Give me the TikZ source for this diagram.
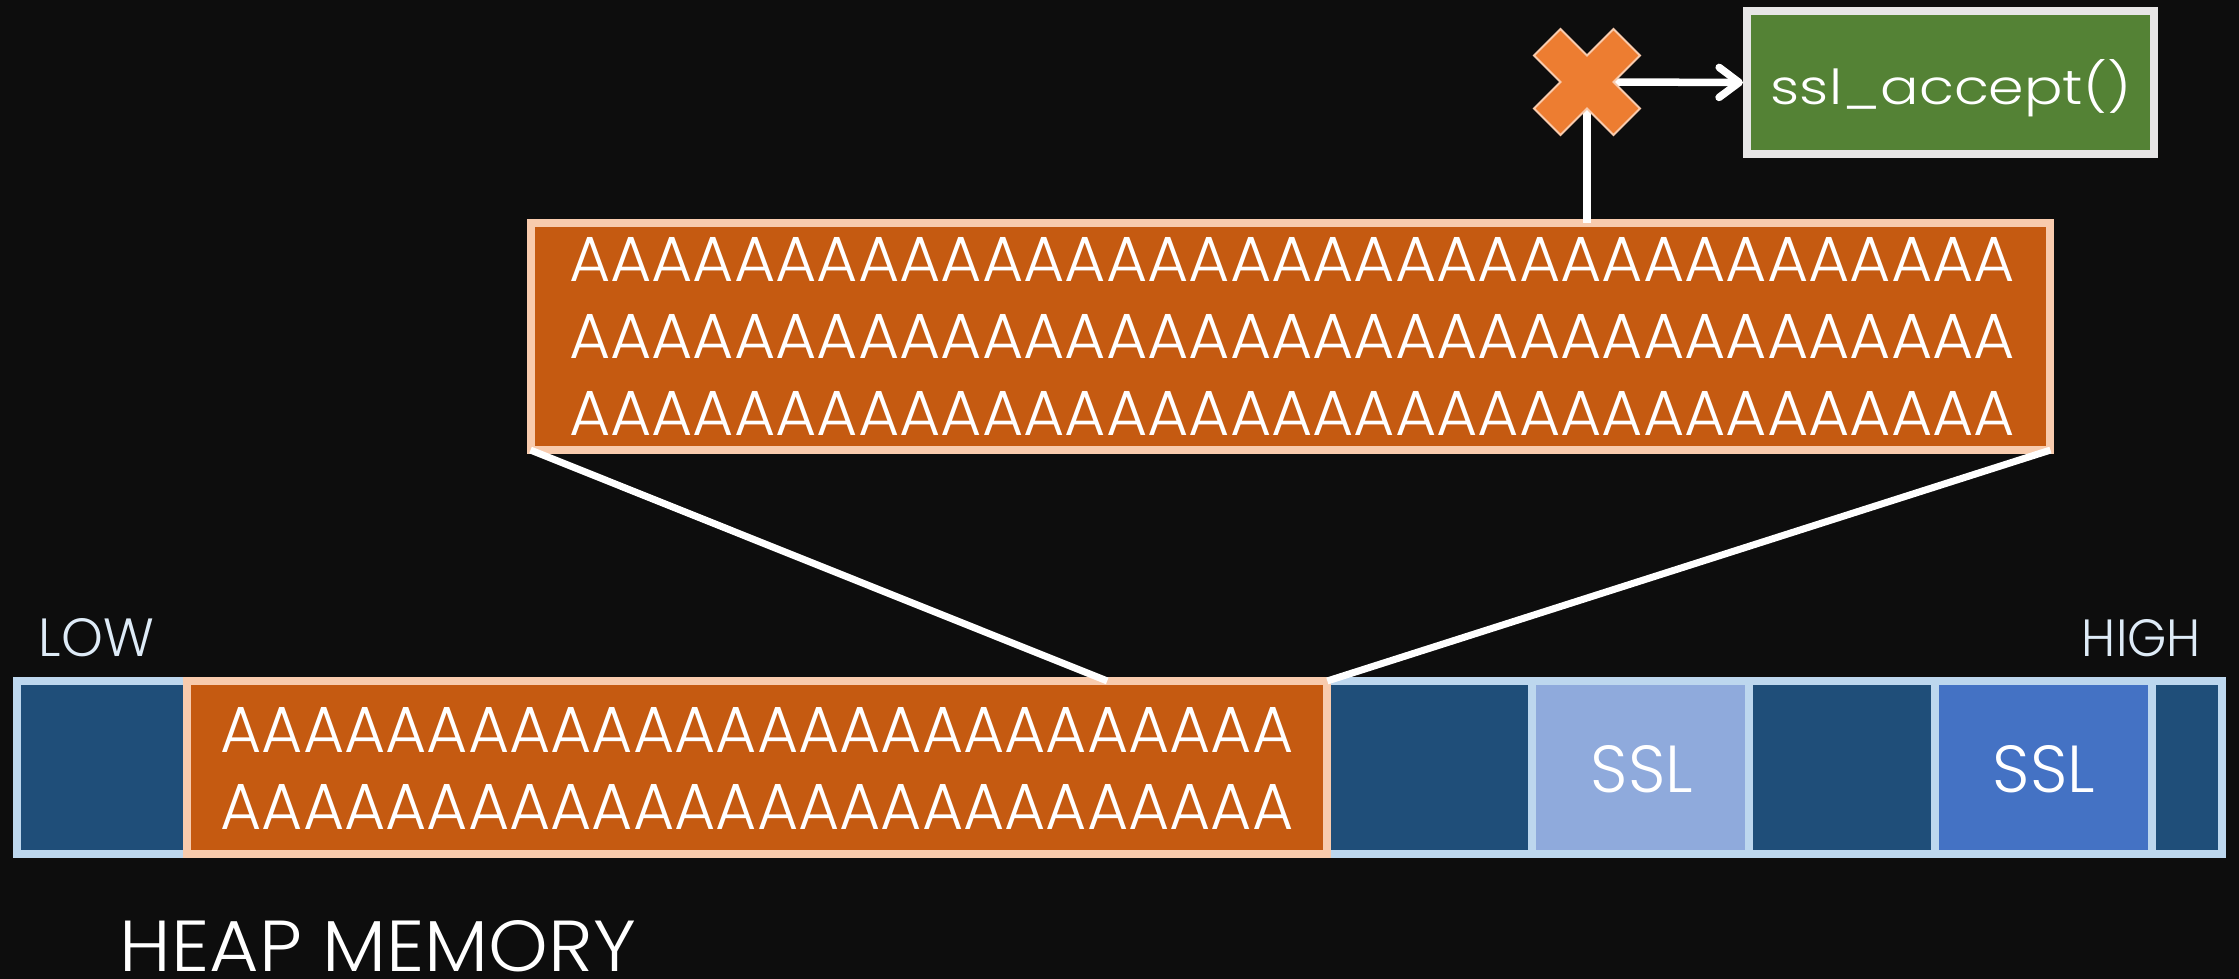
\documentclass[tikz,border=0pt]{standalone}
\usepackage{fontspec}
\setmainfont{Poppins Light}
\usetikzlibrary{arrows.meta,calc}
\definecolor{bg}{HTML}{0D0D0D}
\definecolor{dblue}{HTML}{1F4E79}
\definecolor{bborder}{HTML}{BDD7EE}
\definecolor{ssllight}{HTML}{8FAADC}
\definecolor{sslblue}{HTML}{4472C4}
\definecolor{ofill}{HTML}{C55A11}
\definecolor{oborder}{HTML}{F8CBAD}
\definecolor{xfill}{HTML}{ED7D31}
\definecolor{gfill}{HTML}{548235}
\definecolor{gborder}{HTML}{E7E6E6}
\definecolor{lowtxt}{HTML}{DEEBF7}
\newcommand\Aten{AAAAAAAAAA}
\begin{document}
\begin{tikzpicture}[x=0.01cm,y=-0.01cm,
  memblk/.style={draw=bborder, line width=0.08cm, fill=dblue, minimum height=1.73cm, inner sep=0, outer sep=0},
  ovbox/.style={draw=oborder, line width=0.08cm, fill=ofill, inner sep=0, outer sep=0},
  conn/.style={draw=white, line width=0.07cm},
  txt/.style={text=white, inner sep=0, anchor=base},
  arr/.style={conn, line width=0.075cm, line cap=round, -{Straight Barb[length=0.2cm,width=0.3cm,line cap=round,line join=round]}}
]
\useasboundingbox (0,0) rectangle (2239,979);
\fill[bg] (0,0) rectangle (2239,979);

% memory bar
\node[memblk, minimum width=1.70cm] (b1) at (102,767.5) {};
\node[memblk, minimum width=2.05cm] (b2) at (1429.5,767.5) {};
\node[memblk, minimum width=2.17cm, fill=ssllight] (s1) at (1640.5,767.5) {};
\node[memblk, minimum width=1.86cm] (b3) at (1842,767.5) {};
\node[memblk, minimum width=2.17cm, fill=sslblue] (s2) at (2043.5,767.5) {};
\node[memblk, minimum width=0.70cm] (b4) at (2187,767.5) {};
\node[ovbox, minimum width=11.40cm, minimum height=1.73cm] (ov) at (757,767.5) {};

% big box
\node[ovbox, minimum width=15.19cm, minimum height=2.27cm] (big) at (1290.5,336.5) {};

% connectors
\draw[conn] (big.south west) -- ($(ov.north west)!0.807!(ov.north east)$);
\draw[conn] (big.south east) -- (ov.north east);

% green box
\node[draw=gborder, line width=0.08cm, fill=gfill, minimum width=4.07cm, minimum height=1.43cm, inner sep=0] (ssl) at (1950.5,82.5) {};

% X mark
\coordinate (xmark) at (1587,82);
\coordinate (xright) at (1613,82);
\draw[conn, line width=0.075cm] (big.north -| xmark) -- (xmark);
\draw[arr] (xright) -- (ssl.west);
\begin{scope}[shift={(xmark)}, x=0.265cm, y=-0.265cm]
\filldraw[fill=xfill, draw=oborder, line width=0.02cm, line join=miter]
  (-1,-2) -- (0,-1) -- (1,-2) -- (2,-1) -- (1,0) -- (2,1) -- (1,2) -- (0,1) -- (-1,2) -- (-2,1) -- (-1,0) -- (-2,-1) -- cycle;
\end{scope}

% texts
\node[txt] (t1) at (1292,281.7) {\resizebox{14.45cm}{0.44cm}{\Aten\Aten\Aten AAAAA}};
\node[txt] (t2) at (1292,358) {\resizebox{14.45cm}{0.44cm}{\Aten\Aten\Aten AAAAA}};
\node[txt] (t3) at (1292,435) {\resizebox{14.45cm}{0.44cm}{\Aten\Aten\Aten AAAAA}};
\node[txt] (o1) at (757,752) {\resizebox{10.72cm}{0.45cm}{\Aten\Aten AAAAAA}};
\node[txt] (o2) at (757,829) {\resizebox{10.72cm}{0.45cm}{\Aten\Aten AAAAAA}};
\node[txt] (sl1) at (1642,792) {\resizebox{1.02cm}{0.47cm}{SSL}};
\node[txt] (sl2) at (2044,792) {\resizebox{1.02cm}{0.47cm}{SSL}};
\node[txt] (fn) at (1951,105) {\resizebox{3.60cm}{0.45cm}{ssl\_accept()}};
\node[txt, text=lowtxt] (low) at (96.5,656) {\resizebox{1.15cm}{0.38cm}{LOW}};
\node[txt, text=lowtxt] (high) at (2141.5,656) {\resizebox{1.19cm}{0.37cm}{HIGH}};
\node[txt] (heap) at (378,971) {\resizebox{5.16cm}{0.51cm}{HEAP MEMORY}};
\end{tikzpicture}
\end{document}
